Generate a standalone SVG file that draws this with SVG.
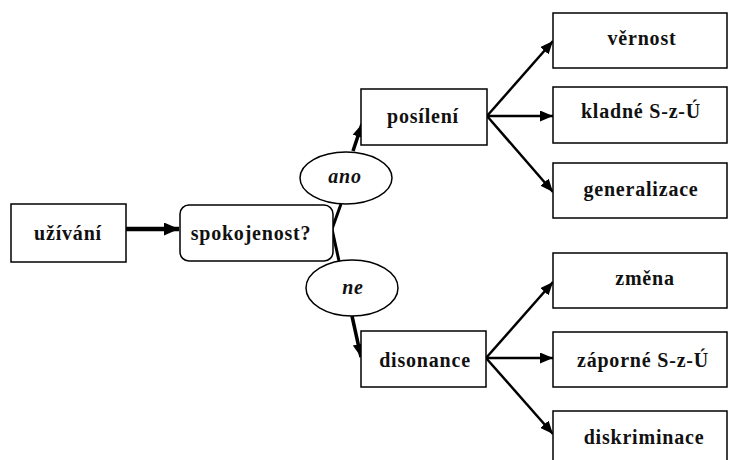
<svg xmlns="http://www.w3.org/2000/svg" width="729" height="460" viewBox="0 0 729 460">
<style>
.box{fill:#fff;stroke:#000;stroke-width:1.5}
.t{font-family:'Liberation Serif','DejaVu Serif',serif;font-weight:700;font-size:20px;letter-spacing:0.8px;text-anchor:middle;fill:#111}
.i{font-style:italic}
.c{fill:none;stroke:#000;stroke-width:2.5}
.thick{stroke-width:4.5}
</style>
<defs>
<marker id="ah" viewBox="0 0 13 11" refX="13" refY="5.5" markerWidth="13" markerHeight="11" markerUnits="userSpaceOnUse" orient="auto">
<path d="M0,0 L13,5.5 L0,11 Z" fill="#000"/>
</marker>
<marker id="ahb" viewBox="0 0 15 13" refX="15" refY="6.5" markerWidth="15" markerHeight="13" markerUnits="userSpaceOnUse" orient="auto">
<path d="M0,0 L15,6.5 L0,13 Z" fill="#000"/>
</marker>
</defs>
<rect width="729" height="460" fill="#fff"/>
<g id="connectors">
<line class="c thick" x1="126" y1="229" x2="179" y2="229" marker-end="url(#ahb)"/>
<path class="c" style="stroke-width:3" d="M341,204 L332,229 L339,261"/>
<line class="c" style="stroke-width:3.5" x1="353" y1="151" x2="362" y2="124" marker-end="url(#ah)"/>
<line class="c" style="stroke-width:3.5" x1="352" y1="316" x2="361" y2="357" marker-end="url(#ah)"/>
<line class="c" x1="487" y1="116" x2="553" y2="41" marker-end="url(#ah)"/>
<line class="c" x1="487" y1="116" x2="553" y2="116" marker-end="url(#ah)"/>
<line class="c" x1="487" y1="116" x2="553" y2="192" marker-end="url(#ah)"/>
<line class="c" x1="486" y1="358" x2="553" y2="282" marker-end="url(#ah)"/>
<line class="c" x1="486" y1="358" x2="553" y2="358" marker-end="url(#ah)"/>
<line class="c" x1="486" y1="358" x2="553" y2="434" marker-end="url(#ah)"/>
</g>
<g id="uzivani"><rect class="box" x="11" y="204" width="115" height="58"/><text class="t" x="68" y="240">užívání</text></g>
<g id="spokojenost"><rect class="box" x="180" y="205" width="153" height="56" rx="9"/><text class="t" x="251" y="240">spokojenost?</text></g>
<g id="ano"><ellipse class="box" cx="346" cy="178" rx="46" ry="26"/><text class="t i" x="345" y="183">ano</text></g>
<g id="ne"><ellipse class="box" cx="352" cy="288" rx="46" ry="28"/><text class="t i" x="353" y="294">ne</text></g>
<g id="posileni"><rect class="box" x="361" y="89" width="126" height="56"/><text class="t" x="423" y="123">posílení</text></g>
<g id="disonance"><rect class="box" x="361" y="331" width="125" height="56"/><text class="t" x="425" y="367">disonance</text></g>
<g id="vernost"><rect class="box" x="553" y="13" width="174" height="55"/><text class="t" x="642" y="45">věrnost</text></g>
<g id="kladne"><rect class="box" x="553" y="87" width="174" height="56"/><text class="t" x="641" y="118">kladné S-z-Ú</text></g>
<g id="generalizace"><rect class="box" x="553" y="163" width="174" height="55"/><text class="t" x="641" y="196">generalizace</text></g>
<g id="zmena"><rect class="box" x="553" y="253" width="174" height="55"/><text class="t" x="645" y="285">změna</text></g>
<g id="zaporne"><rect class="box" x="553" y="332" width="174" height="55"/><text class="t" x="643" y="367">záporné S-z-Ú</text></g>
<g id="diskriminace"><rect class="box" x="553" y="411" width="174" height="60"/><text class="t" x="644" y="444">diskriminace</text></g>
</svg>
